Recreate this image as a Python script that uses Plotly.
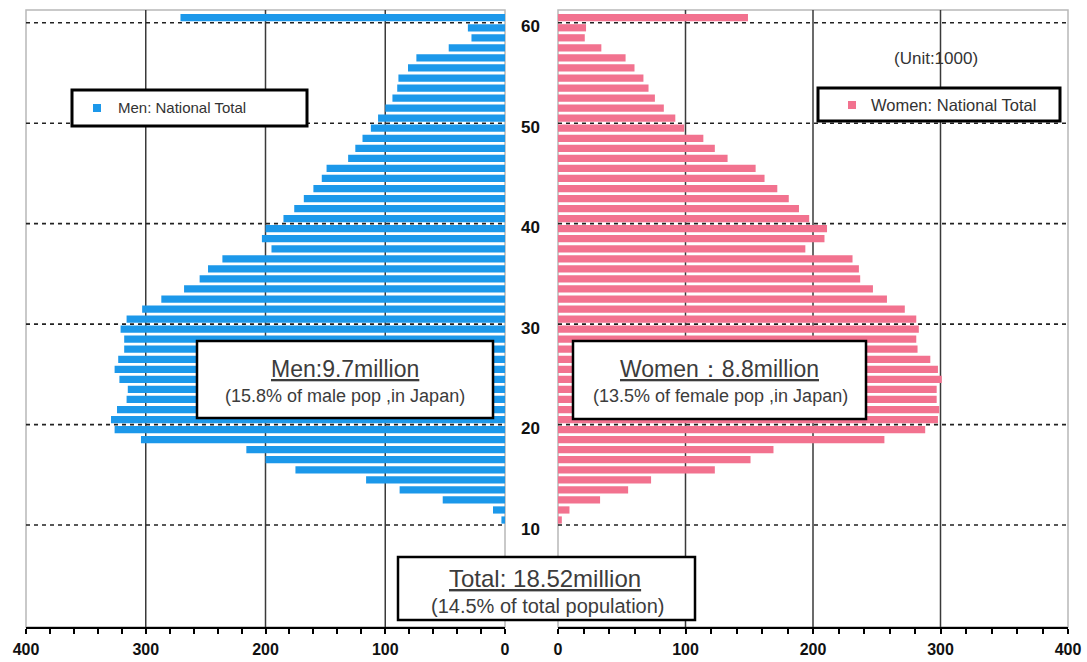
import plotly.graph_objects as go

# ---- data (units: 1000 persons) ----
ages = list(range(60, 9, -1))  # 60 = "60+" row, down to 10
men = [271, 31, 28, 47, 74, 81, 89, 90, 94, 100,
       106, 112, 119, 125, 131, 149, 153, 160, 168, 176,
       185, 200, 203, 195, 236, 248, 255, 268, 287, 303,
       316, 321, 318, 318, 323, 326, 322, 315, 316, 324,
       329, 326, 304, 216, 200, 175, 116, 88, 52, 10, 3]
women = [149, 22, 21, 34, 53, 60, 67, 71, 76, 83,
         92, 99, 114, 123, 133, 155, 162, 172, 181, 189,
         197, 211, 209, 194, 231, 236, 237, 247, 258, 272,
         281, 283, 281, 282, 292, 298, 301, 297, 297, 299,
         298, 288, 256, 169, 151, 123, 73, 55, 33, 9, 3]
age_ticks = [10, 20, 30, 40, 50, 60]
grid_vals = [100, 200, 300]

W, H = 1087, 662
def px(x):
    return x / W
def py(y):
    return 1 - y / H

FONT = "Liberation Sans, Arial, sans-serif"
MEN_C = "#1c98ea"
WOMEN_C = "#f2728f"
TXT = "#3c3c3c"

y_pos = [a + 0.5 for a in ages]

fig = go.Figure()
fig.add_trace(go.Bar(x=men, y=y_pos, orientation="h", xaxis="x", yaxis="y",
                     marker=dict(color=MEN_C, line=dict(width=0)),
                     name="Men: National Total", showlegend=False))
fig.add_trace(go.Bar(x=women, y=y_pos, orientation="h", xaxis="x2", yaxis="y2",
                     marker=dict(color=WOMEN_C, line=dict(width=0)),
                     name="Women: National Total", showlegend=False))

yr = [-0.15, 61.27]
ydom = [py(627), py(10)]
xcommon = dict(tickmode="linear", tick0=0, dtick=100, ticks="outside", ticklen=5,
               tickwidth=1.5, tickcolor="black", showline=True, linecolor="black",
               linewidth=1.5, showgrid=False, zeroline=False, automargin=False,
               ticklabelstandoff=2,
               tickfont=dict(family=FONT, size=16, color="#111111", weight="bold"),
               minor=dict(dtick=20, ticks="outside", ticklen=5, tickwidth=1.5,
                          tickcolor="black", showgrid=False),
               fixedrange=True)
ycommon = dict(range=yr, domain=ydom, showticklabels=False, showgrid=False,
               zeroline=False, showline=False, ticks="", fixedrange=True,
               automargin=False)

fig.update_layout(
    width=W, height=H, margin=dict(l=0, r=0, t=0, b=0, autoexpand=False),
    paper_bgcolor="white", plot_bgcolor="white",
    bargap=0.28, showlegend=False,
    xaxis=dict(domain=[px(26), px(505)], range=[400, 0], anchor="y", **xcommon),
    xaxis2=dict(domain=[px(558), px(1068)], range=[0, 400], anchor="y2", **xcommon),
    yaxis=dict(anchor="x", **ycommon),
    yaxis2=dict(anchor="x2", **ycommon),
)

shapes = []
# panel frames
for xr, yrf in (("x domain", "y domain"), ("x2 domain", "y2 domain")):
    shapes.append(dict(type="rect", xref=xr, yref=yrf, x0=0, x1=1, y0=0, y1=1,
                       line=dict(color="#b8b8b8", width=1.5), layer="below"))
# vertical grid lines
for xa, ya in (("x", "y domain"), ("x2", "y2 domain")):
    for v in grid_vals:
        shapes.append(dict(type="line", xref=xa, yref=ya, x0=v, x1=v, y0=0, y1=1,
                           line=dict(color="#3a3a3a", width=1.5), layer="below"))
# horizontal dashed lines
for xa, ya in (("x domain", "y"), ("x2 domain", "y2")):
    for a in age_ticks:
        shapes.append(dict(type="line", xref=xa, yref=ya, x0=0, x1=1, y0=a, y1=a,
                           line=dict(color="#222222", width=1.6, dash="4px,4px"),
                           layer="above"))

def box(x0, y0, x1, y1, w=2.5):
    shapes.append(dict(type="rect", xref="paper", yref="paper",
                       x0=px(x0), x1=px(x1), y0=py(y1), y1=py(y0),
                       fillcolor="white", line=dict(color="black", width=w),
                       layer="above"))

box(72, 90, 307, 126, 3)
box(818, 88, 1060, 121, 3)
box(197, 341, 493, 418)
box(573, 341, 866, 419)
box(398, 557, 695, 620)

# legend swatches
shapes.append(dict(type="rect", xref="paper", yref="paper", x0=px(93), x1=px(101),
                   y0=py(112), y1=py(104), fillcolor=MEN_C, line=dict(width=0),
                   layer="above"))
shapes.append(dict(type="rect", xref="paper", yref="paper", x0=px(848), x1=px(856),
                   y0=py(109), y1=py(101), fillcolor=WOMEN_C, line=dict(width=0),
                   layer="above"))

ann = []
def text(x, y, s, size, color=TXT, anchor="center", bold=False):
    ann.append(dict(xref="paper", yref="paper", x=px(x), y=py(y), text=s,
                    showarrow=False, xanchor=anchor, yanchor="middle",
                    font=dict(family=FONT, size=size, color=color,
                              weight="bold" if bold else "normal")))

text(116, 108, "Men: National Total", 15, "#333333", "left")
text(869, 105, "Women: National Total", 16.5, "#333333", "left")
text(936, 58, "(Unit:1000)", 17, "#333333")
text(345, 369, "<u>Men:9.7million</u>", 23)
text(345, 396, "(15.8% of male pop ,in Japan)", 18)
text(719, 369, "<u>Women：8.8million</u>", 23)
text(720, 396, "(13.5% of female pop ,in Japan)", 18)
text(545, 578, "<u>Total: 18.52million</u>", 24)
text(548, 606, "(14.5% of total population)", 20)

for a in age_ticks:
    ann.append(dict(xref="paper", yref="y2", x=px(530), y=a - 0.4, text=str(a),
                    showarrow=False, xanchor="center", yanchor="middle",
                    font=dict(family=FONT, size=17, color="#111111", weight="bold")))

fig.update_layout(shapes=shapes, annotations=ann)

fig.write_html("out.html", config={"displayModeBar": False},
               post_script="document.body.style.margin='0';")
